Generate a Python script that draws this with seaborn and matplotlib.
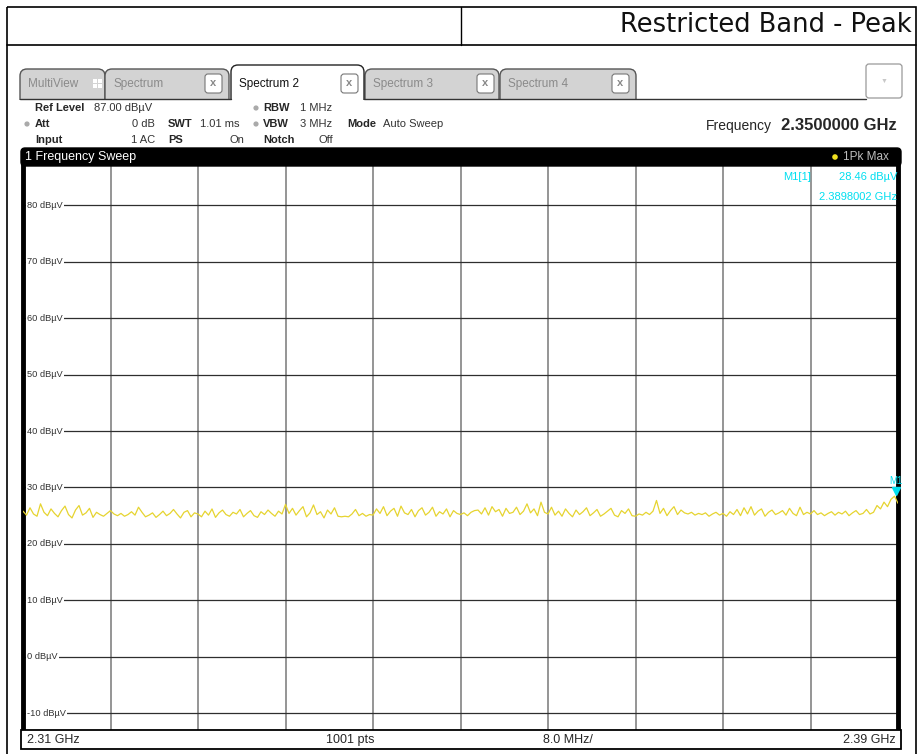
import matplotlib
matplotlib.use("Agg")
import matplotlib.pyplot as plt
from matplotlib.patches import Rectangle, FancyBboxPatch, Circle
import seaborn as sns
import numpy as np
import pandas as pd

# sweep settings
f_start = 2.31
f_stop = 2.39
n_div = 10
level_ticks = [80, 70, 60, 50, 40, 30, 20, 10, 0, -10]
level_labels = ["80 dBµV", "70 dBµV", "60 dBµV", "50 dBµV", "40 dBµV",
                "30 dBµV", "20 dBµV", "10 dBµV", "0 dBµV", "-10 dBµV"]

# 1Pk Max trace, 25 readings per 8 MHz division (dBµV)
trace_db = [
    25.8, 25.1, 26.4, 25.3, 24.9, 27.1, 25.6, 25.0, 26.2, 25.4, 24.8, 25.9, 26.7, 25.2, 24.6, 26.0, 26.8, 25.1, 25.5, 26.3, 24.7, 25.6, 25.2, 24.9, 25.4,
    25.9, 25.3, 25.0, 25.4, 24.9, 25.2, 25.7, 25.1, 26.5, 25.6, 24.8, 25.1, 25.5, 24.7, 25.2, 25.8, 25.0, 25.4, 26.1, 25.3, 24.6, 25.6, 25.9, 24.8, 25.5,
    25.3, 24.8, 25.8, 25.1, 26.2, 24.7, 25.5, 26.0, 25.2, 24.9, 25.6, 25.3, 26.1, 24.8, 25.4, 25.9, 25.0, 24.7, 25.7, 25.2, 26.0, 25.4, 24.9, 25.8, 25.3,
    27.0, 25.4, 26.3, 25.1, 25.9, 26.6, 24.8, 25.5, 26.9, 25.2, 25.7, 24.6, 26.0, 25.3, 26.4, 24.9, 24.8, 24.9, 24.8, 25.3, 26.1, 25.0, 25.4, 24.9, 25.2,
    25.1, 26.2, 25.4, 26.6, 25.0, 25.8, 26.3, 24.9, 26.7, 25.5, 25.2, 26.1, 24.8, 25.9, 26.4, 25.1, 25.6, 26.5, 24.9, 25.7, 25.3, 26.2, 24.8, 25.9, 25.4,
    25.2, 25.5, 25.0, 25.6, 25.9, 26.0, 25.3, 26.4, 25.1, 26.6, 25.7, 26.1, 24.9, 26.3, 25.4, 25.6, 26.5, 25.2, 25.8, 27.1, 25.5, 26.2, 25.0, 27.4, 25.6,
    25.3, 26.5, 25.1, 25.8, 24.9, 26.2, 25.4, 24.8, 26.0, 25.2, 25.7, 26.4, 25.0, 25.5, 26.1, 24.9, 25.3, 25.8, 26.3, 25.1, 24.8, 25.9, 25.4, 26.2, 25.0,
    24.9, 25.3, 25.1, 25.6, 25.2, 25.8, 27.7, 25.4, 26.3, 25.0, 25.9, 26.6, 25.2, 26.0, 25.5, 25.3, 25.6, 25.1, 25.4, 25.2, 25.5, 24.9, 25.3, 25.6, 25.1,
    25.4, 24.9, 25.7, 25.2, 26.1, 25.0, 26.4, 25.3, 26.6, 25.1, 25.8, 26.2, 24.9, 25.6, 26.0, 25.2, 25.5, 25.9, 25.1, 26.3, 25.4, 25.0, 26.5, 25.2, 25.6,
    25.3, 25.9, 25.2, 25.5, 25.0, 25.4, 25.7, 25.1, 25.6, 25.3, 25.8, 25.0, 25.5, 25.9, 25.2, 25.4, 26.1, 25.3, 25.6, 26.8, 26.2, 27.4, 26.6, 27.9, 28.46,
    27.2,
]

marker_freq = 2.3898002
marker_level = 28.46

freq = np.linspace(f_start, f_stop, len(trace_db))
df = pd.DataFrame({"freq": freq, "level": trace_db})

sns.set_style("white")
plt.rcParams["font.family"] = ["Liberation Sans", "DejaVu Sans"]

W, H = 917, 754
fig = plt.figure(figsize=(W / 100, H / 100), dpi=100)


def px_box(x0, y0, x1, y1):
    # pixel box -> figure fraction rect
    return [x0 / W, 1 - y1 / H, (x1 - x0) / W, (y1 - y0) / H]


# ---- diagram area ----
ax = fig.add_axes(px_box(23, 166, 898, 730))
sns.lineplot(data=df, x="freq", y="level", ax=ax, color="#e6d430", linewidth=0.9, zorder=3)
ax.set_xlim(f_start, f_stop)
ax.set_ylim(-13, 87)
for k in range(1, n_div):
    ax.axvline(f_start + k * (f_stop - f_start) / n_div, color="#8c8c8c", lw=1.3, zorder=1)
for v, lab in zip(level_ticks, level_labels):
    ax.axhline(v, color="#2e2e2e", lw=0.9, zorder=1)
    ax.text(0.005, v, lab, transform=ax.get_yaxis_transform(), fontsize=6.7, color="#333333",
            ha="left", va="center", zorder=2,
            bbox=dict(facecolor="white", edgecolor="none", pad=0.8))
ax.set_xticks([])
ax.set_yticks([])
ax.set_xlabel("")
ax.set_ylabel("")
for s in ["left", "right"]:
    ax.spines[s].set_linewidth(3.5)
    ax.spines[s].set_color("black")
ax.spines["top"].set_visible(False)
ax.spines["bottom"].set_color("black")

# marker M1
cyan = "#00dff0"
ax.plot([marker_freq], [marker_level + 0.9], marker="v", color=cyan, markersize=6, zorder=4, clip_on=False)
ax.text(marker_freq, marker_level + 1.8, "M1", color=cyan, fontsize=7, ha="center", va="bottom", zorder=4)

# ---- overlay for the instrument chrome ----
ov = fig.add_axes([0, 0, 1, 1])
ov.set_xlim(0, W)
ov.set_ylim(H, 0)
ov.axis("off")
ov.patch.set_alpha(0)

# report page table
ov.add_patch(Rectangle((7, 7), 909, 770, fill=False, lw=1.2, ec="black", clip_on=False))
ov.plot([7, 916], [45, 45], color="black", lw=1.2)
ov.plot([461, 461], [7, 45], color="black", lw=1.0)
ov.text(912, 25, "Restricted Band - Peak", fontsize=18.5, ha="right", va="center", color="#111111",
        family="DejaVu Sans")


# tabs
def tab(x0, x1, label, active=False, xbox=None):
    top = 65 if active else 69
    fc = "white" if active else "#d3d3d3"
    ec = "#222222" if active else "#555555"
    ov.add_patch(FancyBboxPatch((x0, top), x1 - x0, 112 - top,
                                boxstyle="round,pad=0,rounding_size=7", fc=fc, ec=ec, lw=1.0))
    ov.text(x0 + 8, 84, label, fontsize=8.5, va="center", ha="left",
            color="#111111" if active else "#8a8a8a")
    if xbox is not None:
        ov.add_patch(FancyBboxPatch((xbox, 74), 17, 19, boxstyle="round,pad=0,rounding_size=3",
                                    fc="white", ec="#777777", lw=0.8))
        ov.text(xbox + 8.5, 83.5, "x", fontsize=8, ha="center", va="center", color="#888888",
                fontweight="bold")


tab(20, 105, "MultiView")
tab(105, 229, "Spectrum", xbox=205)
tab(365, 499, "Spectrum 3", xbox=477)
tab(500, 636, "Spectrum 4", xbox=612)
tab(231, 364, "Spectrum 2", active=True, xbox=341)
# grid icon on MultiView tab
for dx in (0, 5):
    for dy in (0, 5):
        ov.add_patch(Rectangle((93 + dx, 79 + dy), 4, 4, fc="white", ec="none"))
# cover lower part of tabs, then bottom line of the tab bar
ov.add_patch(Rectangle((14, 99.5), 896, 48, fc="white", ec="none"))
ov.plot([20, 231], [99, 99], color="#333333", lw=1.0)
ov.plot([364, 866], [99, 99], color="#333333", lw=1.0)
ov.add_patch(FancyBboxPatch((866, 64), 36, 34, boxstyle="round,pad=0,rounding_size=3",
                            fc="white", ec="#9a9a9a", lw=0.9))
ov.text(884, 81, "▼", fontsize=5, ha="center", va="center", color="#c8c8c8")

# settings block
fs = 8
gray_dot = "#aaaaaa"
ov.text(35, 108, "Ref Level", fontsize=fs, fontweight="bold", va="center")
ov.text(94, 108, "87.00 dBµV", fontsize=fs, va="center", color="#333333")
ov.add_patch(Circle((256, 108), 2.6, fc=gray_dot, ec="none"))
ov.text(263, 108, "RBW", fontsize=fs, fontweight="bold", va="center")
ov.text(300, 108, "1 MHz", fontsize=fs, va="center", color="#333333")

ov.add_patch(Circle((27, 124), 2.6, fc=gray_dot, ec="none"))
ov.text(35, 124, "Att", fontsize=fs, fontweight="bold", va="center")
ov.text(155, 124, "0 dB", fontsize=fs, va="center", ha="right", color="#333333")
ov.text(168, 124, "SWT", fontsize=fs, fontweight="bold", va="center")
ov.text(200, 124, "1.01 ms", fontsize=fs, va="center", color="#333333")
ov.add_patch(Circle((256, 124), 2.6, fc=gray_dot, ec="none"))
ov.text(263, 124, "VBW", fontsize=fs, fontweight="bold", va="center")
ov.text(300, 124, "3 MHz", fontsize=fs, va="center", color="#333333")
ov.text(347, 124, "Mode", fontsize=fs, fontweight="bold", va="center")
ov.text(383, 124, "Auto Sweep", fontsize=fs, va="center", color="#333333")

ov.text(35, 140, "Input", fontsize=fs, fontweight="bold", va="center")
ov.text(155, 140, "1 AC", fontsize=fs, va="center", ha="right", color="#333333")
ov.text(168, 140, "PS", fontsize=fs, fontweight="bold", va="center")
ov.text(244, 140, "On", fontsize=fs, va="center", ha="right", color="#333333")
ov.text(263, 140, "Notch", fontsize=fs, fontweight="bold", va="center")
ov.text(333, 140, "Off", fontsize=fs, va="center", ha="right", color="#333333")

ov.text(772, 126, "Frequency", fontsize=10, va="center", ha="right")
ov.text(781, 126, "2.3500000 GHz", fontsize=12, fontweight="bold", va="center", ha="left")

# sweep title bar
ov.add_patch(FancyBboxPatch((21, 148), 880, 18, boxstyle="round,pad=0,rounding_size=4",
                            fc="black", ec="black"))
ov.text(25, 157, "1 Frequency Sweep", fontsize=9, color="white", va="center")
ov.add_patch(Circle((835, 157), 2.8, fc="#f0e020", ec="none"))
ov.text(889, 157, "1Pk Max", fontsize=8.5, color="#bdbdbd", va="center", ha="right")

# marker readout
ov.text(783, 177, "M1[1]", fontsize=8, color=cyan, va="center")
ov.text(897, 177, "28.46 dBµV", fontsize=8, color=cyan, va="center", ha="right")
ov.text(897, 197, "2.3898002 GHz", fontsize=8, color=cyan, va="center", ha="right")

# bottom scale bar
ov.add_patch(Rectangle((21, 730), 880, 19, fc="white", ec="black", lw=1.3))
ov.text(27, 740, "2.31 GHz", fontsize=9, va="center", ha="left")
ov.text(350, 740, "1001 pts", fontsize=9, va="center", ha="center")
ov.text(568, 740, "8.0 MHz/", fontsize=9, va="center", ha="center")
ov.text(896, 740, "2.39 GHz", fontsize=9, va="center", ha="right")

fig.savefig("out.png", dpi=100)
